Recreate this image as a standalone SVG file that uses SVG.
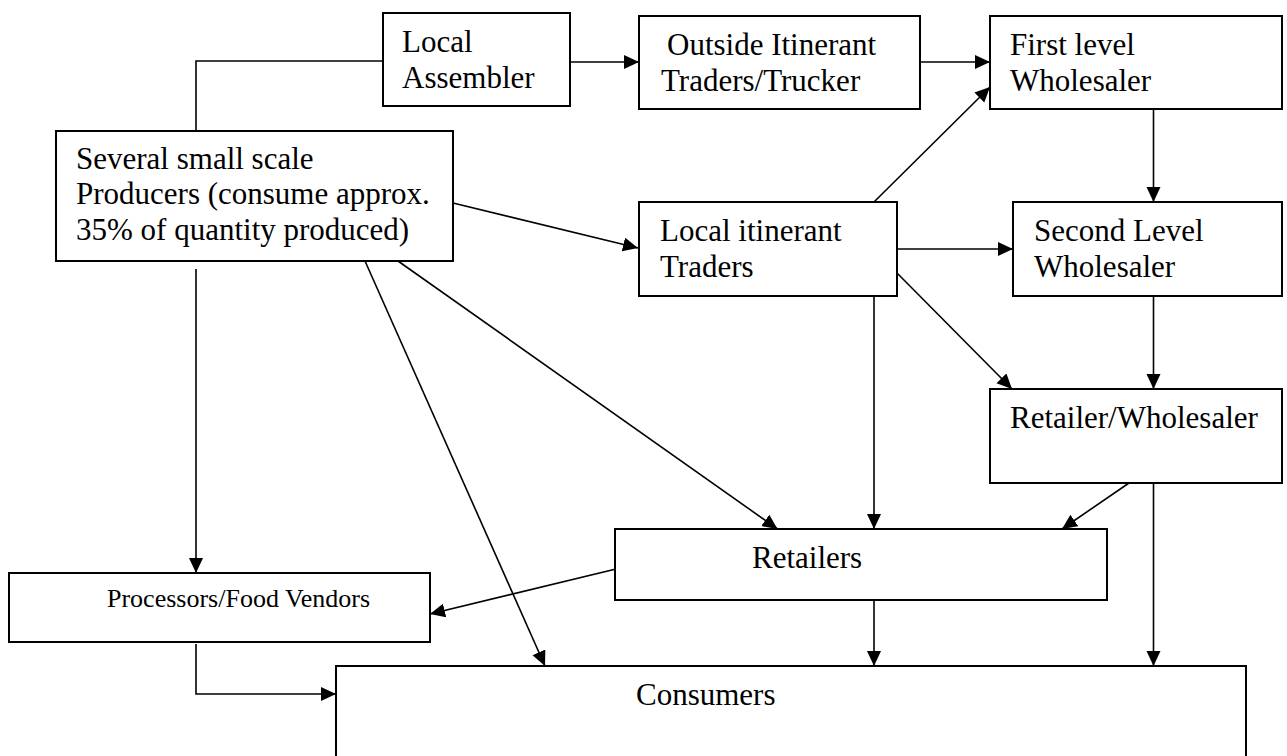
<svg xmlns="http://www.w3.org/2000/svg" width="1287" height="756" viewBox="0 0 1287 756">
<style>
.box{fill:#fff;stroke:#000;stroke-width:2}
.t{font-family:"Liberation Serif","Times New Roman",serif;font-size:31px;fill:#000}
.s{font-size:26px}
.c{fill:none;stroke:#000;stroke-width:1.6}
</style>
<defs>
<marker id="ah" markerUnits="userSpaceOnUse" markerWidth="16" markerHeight="15" refX="15" refY="7" orient="auto">
<path d="M0,0 L15,7 L0,14 z" fill="#000"/>
</marker>
</defs>
<rect width="1287" height="756" fill="#fff"/>
<g id="connectors">
<polyline class="c" points="383,61 196,61 196,131"/>
<line class="c" x1="570" y1="62" x2="639" y2="62" marker-end="url(#ah)"/>
<line class="c" x1="920" y1="62" x2="990" y2="62" marker-end="url(#ah)"/>
<line class="c" x1="453" y1="203" x2="638" y2="248" marker-end="url(#ah)"/>
<line class="c" x1="874" y1="202" x2="990" y2="87" marker-end="url(#ah)"/>
<line class="c" x1="1153.5" y1="109" x2="1153.5" y2="202" marker-end="url(#ah)"/>
<line class="c" x1="897" y1="249" x2="1013" y2="249" marker-end="url(#ah)"/>
<line class="c" x1="897" y1="273" x2="1012" y2="389" marker-end="url(#ah)"/>
<line class="c" x1="1153.5" y1="296" x2="1153.5" y2="389" marker-end="url(#ah)"/>
<line class="c" x1="874" y1="296" x2="874" y2="529" marker-end="url(#ah)"/>
<line class="c" x1="1129" y1="483" x2="1062" y2="529" marker-end="url(#ah)"/>
<line class="c" x1="398" y1="261" x2="777.5" y2="529" marker-end="url(#ah)"/>
<line class="c" x1="365" y1="261" x2="545" y2="666" marker-end="url(#ah)"/>
<line class="c" x1="196" y1="269" x2="196" y2="573" marker-end="url(#ah)"/>
<line class="c" x1="616" y1="569" x2="430" y2="614" marker-end="url(#ah)"/>
<line class="c" x1="874" y1="600" x2="874" y2="666" marker-end="url(#ah)"/>
<line class="c" x1="1153.5" y1="483" x2="1153.5" y2="666" marker-end="url(#ah)"/>
<polyline class="c" points="196,644 196,694 336,694" marker-end="url(#ah)"/>
</g>
<g id="local-assembler">
<rect class="box" x="383" y="13" width="187" height="93"/>
<text class="t" x="402" y="52">Local</text>
<text class="t" x="402" y="88">Assembler</text>
</g>
<g id="outside-itinerant">
<rect class="box" x="639" y="16" width="281" height="93"/>
<text class="t" x="667" y="55">Outside Itinerant</text>
<text class="t" x="661" y="91">Traders/Trucker</text>
</g>
<g id="first-level">
<rect class="box" x="990" y="16" width="292" height="93"/>
<text class="t" x="1010" y="55">First level</text>
<text class="t" x="1010" y="91">Wholesaler</text>
</g>
<g id="producers">
<rect class="box" x="56" y="131" width="397" height="130"/>
<text class="t" x="76" y="169">Several small scale</text>
<text class="t" x="76" y="204">Producers (consume approx.</text>
<text class="t" x="76" y="240">35% of quantity produced)</text>
</g>
<g id="local-itinerant">
<rect class="box" x="639" y="202" width="258" height="94"/>
<text class="t" x="660" y="241">Local itinerant</text>
<text class="t" x="660" y="277">Traders</text>
</g>
<g id="second-level">
<rect class="box" x="1013" y="202" width="269" height="94"/>
<text class="t" x="1034" y="241">Second Level</text>
<text class="t" x="1034" y="277">Wholesaler</text>
</g>
<g id="retailer-wholesaler">
<rect class="box" x="990" y="389" width="292" height="94"/>
<text class="t" x="1010" y="428">Retailer/Wholesaler</text>
</g>
<g id="retailers">
<rect class="box" x="615" y="529" width="492" height="71"/>
<text class="t" x="752" y="568">Retailers</text>
</g>
<g id="processors">
<rect class="box" x="9" y="573" width="421" height="69"/>
<text class="t s" x="107" y="607">Processors/Food Vendors</text>
</g>
<g id="consumers">
<rect class="box" x="336" y="666" width="910" height="120"/>
<text class="t" x="636" y="705">Consumers</text>
</g>
</svg>
